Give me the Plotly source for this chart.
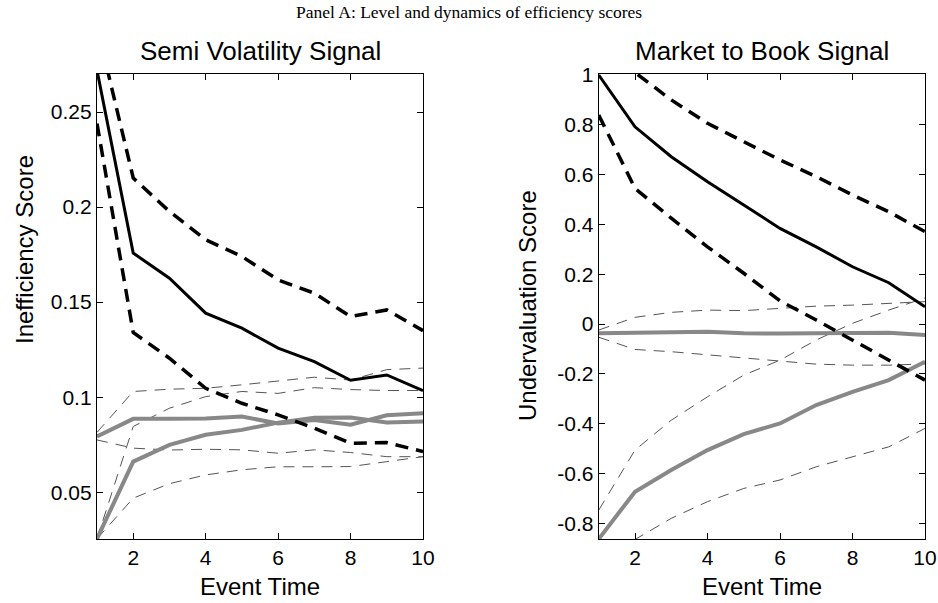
import plotly.graph_objects as go

event_time = [1, 2, 3, 4, 5, 6, 7, 8, 9, 10]

# Left panel: Semi Volatility Signal (Inefficiency Score)
sv_black_mean = [0.272, 0.1758, 0.1626, 0.1442, 0.1363, 0.1258, 0.1187, 0.1089, 0.1117, 0.1035]
sv_black_upper = [0.295, 0.2153, 0.1977, 0.1828, 0.1740, 0.1617, 0.1547, 0.1424, 0.1459, 0.1350]
sv_black_lower = [0.244, 0.1340, 0.1205, 0.1047, 0.0968, 0.0907, 0.0837, 0.0758, 0.0761, 0.0714]
sv_gray_a = [0.0793, 0.0886, 0.0886, 0.0888, 0.0898, 0.0862, 0.0880, 0.0855, 0.0905, 0.0916]
sv_gray_a_upper = [0.0815, 0.1030, 0.1042, 0.1047, 0.1065, 0.1085, 0.1105, 0.1090, 0.1145, 0.1153]
sv_gray_a_lower = [0.0775, 0.0732, 0.0722, 0.0726, 0.0723, 0.0705, 0.0723, 0.0709, 0.0687, 0.0687]
sv_gray_b = [0.0255, 0.0661, 0.0749, 0.0802, 0.0828, 0.0866, 0.0892, 0.0893, 0.0867, 0.0872]
sv_gray_b_upper = [0.0255, 0.0846, 0.0942, 0.1003, 0.1030, 0.1020, 0.1050, 0.1040, 0.1035, 0.1035]
sv_gray_b_lower = [0.0255, 0.0469, 0.0545, 0.0591, 0.0618, 0.0634, 0.0634, 0.0635, 0.0661, 0.0687]

# Right panel: Market to Book Signal (Undervaluation Score)
mb_black_mean = [1.0, 0.792, 0.672, 0.571, 0.478, 0.384, 0.310, 0.230, 0.166, 0.069]
mb_black_upper = [1.2, 1.01, 0.900, 0.806, 0.732, 0.659, 0.592, 0.518, 0.451, 0.371]
mb_black_lower = [0.839, 0.545, 0.425, 0.310, 0.204, 0.093, 0.016, -0.064, -0.145, -0.225]
mb_gray_a = [-0.037, -0.033, -0.033, -0.031, -0.037, -0.038, -0.038, -0.037, -0.035, -0.044]
mb_gray_a_upper = [-0.024, 0.027, 0.047, 0.056, 0.054, 0.063, 0.072, 0.076, 0.082, 0.090]
mb_gray_a_lower = [-0.053, -0.102, -0.111, -0.124, -0.138, -0.151, -0.161, -0.165, -0.165, -0.160]
mb_gray_b = [-0.863, -0.673, -0.586, -0.506, -0.442, -0.399, -0.325, -0.272, -0.225, -0.151]
mb_gray_b_upper = [-0.747, -0.506, -0.386, -0.292, -0.205, -0.145, -0.064, 0.003, 0.056, 0.105]
mb_gray_b_lower = [-1.05, -0.865, -0.780, -0.713, -0.660, -0.626, -0.573, -0.533, -0.493, -0.419]

x_ticks = [2, 4, 6, 8, 10]
left_y_ticks = [0.05, 0.1, 0.15, 0.2, 0.25]
left_y_text = ["0.05", "0.1", "0.15", "0.2", "0.25"]
right_y_ticks = [-0.8, -0.6, -0.4, -0.2, 0, 0.2, 0.4, 0.6, 0.8, 1]
right_y_text = ["-0.8", "-0.6", "-0.4", "-0.2", "0", "0.2", "0.4", "0.6", "0.8", "1"]

BLACK = "#000000"
GRAY = "#888888"
DGRAY = "#555555"

styles = {
    "mean": dict(color=BLACK, width=3),
    "black_ci": dict(color=BLACK, width=3.5, dash="13px,8px"),
    "gray": dict(color=GRAY, width=4),
    "gray_ci": dict(color=DGRAY, width=1, dash="11px,8px"),
}

fig = go.Figure()

def add(y, style, xa, ya):
    fig.add_trace(go.Scatter(x=event_time, y=y, mode="lines", line=styles[style],
                             xaxis=xa, yaxis=ya, showlegend=False, hoverinfo="skip"))

for y in [sv_gray_a_upper, sv_gray_a_lower, sv_gray_b_upper, sv_gray_b_lower]:
    add(y, "gray_ci", "x", "y")
for y in [sv_gray_a, sv_gray_b]:
    add(y, "gray", "x", "y")
for y in [sv_black_upper, sv_black_lower]:
    add(y, "black_ci", "x", "y")
add(sv_black_mean, "mean", "x", "y")

for y in [mb_gray_a_upper, mb_gray_a_lower, mb_gray_b_upper, mb_gray_b_lower]:
    add(y, "gray_ci", "x2", "y2")
for y in [mb_gray_a, mb_gray_b]:
    add(y, "gray", "x2", "y2")
for y in [mb_black_upper, mb_black_lower]:
    add(y, "black_ci", "x2", "y2")
add(mb_black_mean, "mean", "x2", "y2")

W, H = 938, 603
def px(x):
    return x / W
def py(y):
    return 1 - y / H

axis_common = dict(showline=True, linecolor="black", linewidth=1.3, mirror="ticks",
                   ticks="inside", ticklen=6, tickcolor="black", tickwidth=1,
                   showgrid=False, zeroline=False, automargin=False,
                   tickfont=dict(family="Liberation Sans, Arial", size=21, color="black"))

fig.update_layout(
    width=W, height=H,
    margin=dict(l=0, r=0, t=0, b=0, autoexpand=False),
    paper_bgcolor="white", plot_bgcolor="white",
    xaxis=dict(domain=[px(97), px(423)], range=[1, 10], tickvals=x_ticks, anchor="y", **axis_common),
    yaxis=dict(domain=[py(539), py(74)], range=[0.0254, 0.270], tickvals=left_y_ticks,
               ticktext=left_y_text, anchor="x", **axis_common),
    xaxis2=dict(domain=[px(598.75), px(925)], range=[1, 10], tickvals=x_ticks, anchor="y2", **axis_common),
    yaxis2=dict(domain=[py(539), py(74)], range=[-0.863, 1.004], tickvals=right_y_ticks,
                ticktext=right_y_text, anchor="x2", **axis_common),
)

sans = "Liberation Sans, Arial"
ann = [
    dict(text="Panel A: Level and dynamics of efficiency scores", x=0.5, y=py(12),
         font=dict(family="Liberation Serif, DejaVu Serif", size=17.5)),
    dict(text="Semi Volatility Signal", x=px(260), y=py(51), font=dict(family=sans, size=26)),
    dict(text="Market to Book Signal", x=px(762), y=py(51), font=dict(family=sans, size=26)),
    dict(text="Event Time", x=px(260), y=py(586), font=dict(family=sans, size=24)),
    dict(text="Event Time", x=px(762), y=py(586), font=dict(family=sans, size=24)),
    dict(text="Inefficiency Score", x=px(24), y=py(250), textangle=-90, font=dict(family=sans, size=24)),
    dict(text="Undervaluation Score", x=px(527), y=py(306), textangle=-90, font=dict(family=sans, size=24)),
]
for a in ann:
    a["font"]["color"] = "black"
    fig.add_annotation(xref="paper", yref="paper", showarrow=False, xanchor="center",
                       yanchor="middle", **a)

fig.write_html("out.html", config={"displayModeBar": False},
               post_script="document.body.style.margin='0';document.body.style.overflow='hidden';")
